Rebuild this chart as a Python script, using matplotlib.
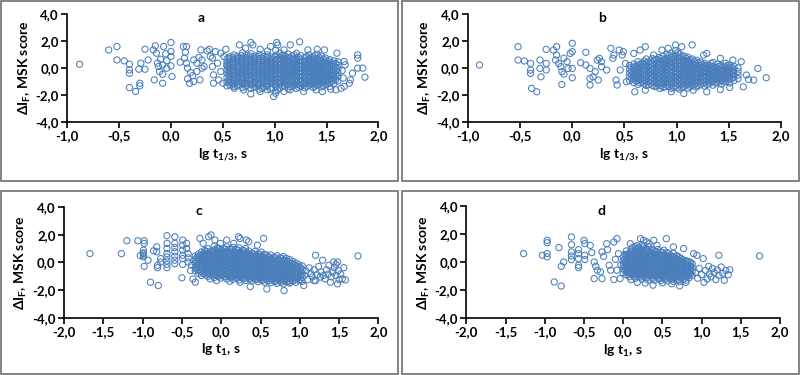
import matplotlib
matplotlib.use("Agg")
import matplotlib.pyplot as plt
from matplotlib.patches import Rectangle
from matplotlib.ticker import FuncFormatter, MultipleLocator

plt.rcParams["font.family"] = ["Lato", "DejaVu Sans"]
plt.rcParams["mathtext.fontset"] = "custom"
plt.rcParams["mathtext.rm"] = "Lato:bold"
plt.rcParams["mathtext.it"] = "Lato:bold"
plt.rcParams["mathtext.bf"] = "Lato:bold"

# ---- panel a: lg t1/3 vs dIF (all points) ----
a_pts = [(-0.88, 0.27), (-0.60, 1.33), (-0.52, 1.58), (-0.52, 0.59), (-0.45, 0.52),
         (-0.40, 0.27), (-0.40, -0.15), (-0.40, -0.40), (-0.40, -1.46), (-0.34, -1.75),
         (-0.30, -1.33), (-0.30, -1.14), (-0.31, -0.10), (-0.25, -0.10), (-0.29, 0.35),
         (-0.25, 1.38), (-0.22, 0.59), (-0.17, 1.33), (-0.15, 1.63), (-0.14, 1.09),
         (-0.16, -0.89), (-0.13, 0.35), (-0.12, 0.10), (-0.10, 0.64), (-0.08, 0.22),
         (-0.11, -0.27), (-0.08, -0.47), (-0.08, -1.14), (-0.07, 1.58), (-0.05, 1.04),
         (-0.04, 0.54), (-0.04, -0.02), (0.00, 1.88), (0.00, 1.21), (0.00, 0.84),
         (0.01, -0.64), (0.00, 0.15), (0.09, 0.42), (0.12, 1.58), (0.13, 0.72),
         (0.14, 1.16), (0.15, 0.35), (0.15, 1.58), (0.16, -0.02), (0.16, -0.81),
         (0.18, -1.14), (0.19, -0.35), (0.21, -0.57), (0.22, -1.01), (0.22, 0.59),
         (0.25, -0.27), (0.25, 0.35), (0.27, 0.77), (0.28, -0.89), (0.29, 1.33),
         (0.30, 0.59), (0.30, -0.02), (0.32, 0.10), (0.35, 1.26), (0.37, 1.38),
         (0.38, 0.84), (0.40, 0.10), (0.40, 0.72), (0.41, -0.52), (0.41, -1.14),
         (0.43, 1.21), (0.45, 0.35), (0.46, -0.89), (0.48, 1.09), (0.48, -0.27),
         (0.50, -1.14), (0.51, 0.84), (0.53, 1.38), (0.54, 0.22), (0.54, -1.33),
         (0.66, 1.70), (0.72, 1.46), (0.77, 1.88), (0.79, 1.70), (0.86, 1.38),
         (0.96, 1.58), (1.02, 1.88), (1.03, 1.70), (1.09, 1.33), (1.15, 1.70),
         (1.24, 1.93), (1.32, 1.33), (1.41, 1.38), (1.48, 1.33), (1.60, 1.09),
         (1.80, 0.96), (1.80, 0.72), (1.80, -0.02), (1.85, -0.02), (1.87, -0.69),
         (1.75, -0.40), (1.73, -0.89), (1.72, -1.14), (1.67, -1.38), (1.64, -1.51),
         (1.68, 0.22), (1.67, 0.47), (1.65, -0.20), (1.66, -0.75),
         (0.61, -1.51), (0.70, -1.63), (0.77, -1.93), (0.86, -1.75), (0.99, -2.12),
         (1.01, -1.88), (1.09, -1.75), (1.15, -1.63), (1.28, -1.75), (1.40, -1.63),
         (1.46, -1.75), (1.54, -1.58), (1.59, -1.63)]

a_core = {
    0.54: [-1.05, -0.72, -0.41, -0.15, 0.12, 0.41, 0.66],
    0.57: [-1.28, -0.95, -0.63, -0.33, -0.05, 0.22, 0.51, 0.83],
    0.61: [-1.38, -1.12, -0.84, -0.55, -0.27, 0.02, 0.31, 0.62, 0.95],
    0.65: [-1.22, -0.98, -0.71, -0.44, -0.18, 0.09, 0.38, 0.71],
    0.69: [-1.45, -1.18, -0.90, -0.61, -0.33, -0.06, 0.21, 0.49, 0.80, 1.12],
    0.73: [-1.30, -1.02, -0.77, -0.50, -0.22, 0.05, 0.33, 0.63, 0.92],
    0.77: [-1.52, -1.25, -0.96, -0.68, -0.40, -0.13, 0.15, 0.44, 0.74, 1.05],
    0.81: [-1.36, -1.08, -0.81, -0.55, -0.27, 0.01, 0.28, 0.58, 0.88],
    0.85: [-1.58, -1.27, -0.99, -0.72, -0.45, -0.17, 0.11, 0.40, 0.69, 1.00],
    0.89: [-1.41, -1.13, -0.86, -0.58, -0.30, -0.03, 0.25, 0.53, 0.83],
    0.93: [-1.62, -1.30, -1.02, -0.75, -0.47, -0.20, 0.08, 0.37, 0.66, 0.97, 1.25],
    0.97: [-1.47, -1.17, -0.89, -0.61, -0.34, -0.07, 0.21, 0.50, 0.80],
    1.01: [-1.70, -1.35, -1.06, -0.78, -0.50, -0.22, 0.05, 0.33, 0.62, 0.93, 1.30],
    1.05: [-1.50, -1.20, -0.92, -0.64, -0.36, -0.09, 0.19, 0.47, 0.77, 1.10],
    1.09: [-1.33, -1.04, -0.76, -0.48, -0.21, 0.07, 0.35, 0.64, 0.94],
    1.13: [-1.55, -1.23, -0.95, -0.67, -0.39, -0.12, 0.16, 0.44, 0.73, 1.02],
    1.17: [-1.38, -1.09, -0.81, -0.53, -0.25, 0.03, 0.30, 0.59, 0.88],
    1.21: [-1.52, -1.21, -0.93, -0.65, -0.37, -0.10, 0.18, 0.46, 0.76, 1.08],
    1.25: [-1.34, -1.05, -0.77, -0.49, -0.22, 0.06, 0.33, 0.62, 0.91],
    1.29: [-1.48, -1.18, -0.90, -0.62, -0.34, -0.07, 0.21, 0.49, 0.79],
    1.33: [-1.31, -1.02, -0.74, -0.46, -0.19, 0.09, 0.37, 0.66, 0.96],
    1.37: [-1.45, -1.15, -0.87, -0.59, -0.31, -0.04, 0.24, 0.52, 0.83],
    1.41: [-1.28, -0.99, -0.71, -0.43, -0.16, 0.12, 0.40, 0.70, 1.01],
    1.45: [-1.42, -1.12, -0.84, -0.56, -0.28, -0.01, 0.27, 0.56, 0.88],
    1.49: [-1.25, -0.96, -0.68, -0.40, -0.13, 0.15, 0.43, 0.73],
    1.53: [-1.38, -1.08, -0.80, -0.52, -0.25, 0.03, 0.31, 0.61],
    1.57: [-1.15, -0.87, -0.59, -0.31, -0.04, 0.24, 0.52],
    1.61: [-0.98, -0.66, -0.36, -0.08, 0.20, 0.45],
}

a_core2 = {
    0.56: [-1.10, -0.80, -0.49, -0.20, 0.08, 0.37, 0.70],
    0.60: [-1.25, -0.97, -0.69, -0.41, -0.12, 0.16, 0.45, 0.78],
    0.64: [-1.33, -1.05, -0.57, -0.31, -0.04, 0.24, 0.55, 0.85],
    0.68: [-1.08, -0.76, -0.47, -0.19, 0.35, 0.64, 0.93],
    0.72: [-1.40, -1.15, -0.63, -0.36, -0.08, 0.19, 0.48, 0.77],
    0.76: [-1.20, -0.82, -0.54, -0.26, 0.01, 0.30, 0.59, 0.88],
    0.80: [-1.45, -1.17, -0.69, -0.41, -0.14, 0.13, 0.42, 0.72],
    0.84: [-1.30, -1.12, -0.85, -0.58, -0.31, -0.03, 0.25, 0.55, 0.84],
    0.88: [-1.52, -1.00, -0.72, -0.44, -0.16, 0.12, 0.39, 0.68],
    0.92: [-1.38, -1.15, -0.88, -0.61, -0.33, -0.06, 0.22, 0.51, 0.80],
    0.96: [-1.58, -1.03, -0.75, -0.47, -0.20, 0.07, 0.35, 0.65],
    1.00: [-1.20, -0.92, -0.64, -0.36, -0.08, 0.19, 0.47, 0.77],
    1.03: [-1.62, -1.06, -0.78, -0.50, -0.22, 0.05, 0.33, 0.62],
    1.07: [-1.35, -1.06, -0.78, -0.50, -0.23, 0.05, 0.33, 0.62, 0.92],
    1.11: [-1.18, -0.90, -0.62, -0.34, -0.07, 0.21, 0.50, 0.80],
    1.15: [-1.40, -1.10, -0.67, -0.39, -0.11, 0.16, 0.45, 0.74],
    1.19: [-1.24, -0.95, -0.51, -0.24, 0.04, 0.32, 0.62, 0.95],
    1.23: [-1.42, -1.19, -0.91, -0.63, -0.35, -0.08, 0.20, 0.48, 0.77],
    1.27: [-1.22, -0.63, -0.35, -0.08, 0.20, 0.48],
    1.31: [-1.38, -1.16, -0.88, -0.60, -0.33, -0.05, 0.23, 0.52, 0.83],
    1.35: [-1.22, -0.94, -0.66, -0.38, -0.11, 0.17, 0.45, 0.75],
    1.39: [-1.37, -1.07, -0.79, -0.51, -0.23, 0.04, 0.32, 0.62, 0.92],
    1.43: [-1.20, -0.92, -0.64, -0.36, -0.08, 0.20, 0.48, 0.78],
    1.47: [-1.32, -1.04, -0.76, -0.48, -0.20, 0.07, 0.35, 0.65],
    1.51: [-1.18, -0.90, -0.62, -0.34, -0.06, 0.22, 0.52],
    1.55: [-1.02, -0.74, -0.46, -0.18, 0.10, 0.38],
    1.59: [-0.88, -0.55, -0.22, 0.05, 0.32],
}

# ---- panel b: lg t1/3 vs dIF (subset) ----
b_pts = [(-0.89, 0.21), (-0.52, 1.57), (-0.52, 0.58), (-0.46, 0.51), (-0.40, 0.33),
         (-0.40, -0.16), (-0.40, -0.41), (-0.39, -1.52), (-0.34, -1.77), (-0.31, 0.58),
         (-0.31, -0.04), (-0.30, -0.66), (-0.25, 1.37), (-0.25, 0.33), (-0.25, -0.16),
         (-0.18, 1.32), (-0.15, 1.57), (-0.16, 0.58), (-0.15, 0.95), (-0.13, 0.33),
         (-0.11, 0.09), (-0.10, -0.28), (-0.08, -0.46), (-0.10, -1.23), (-0.08, 0.71),
         (-0.05, 0.46), (-0.04, -0.04), (-0.02, 1.07), (0.00, 1.20), (0.00, 1.82),
         (0.00, -0.04), (0.00, -0.73), (0.08, 0.38), (0.13, 1.15), (0.13, 0.21),
         (0.17, -0.04), (0.17, -0.78), (0.17, -1.27), (0.20, -0.66), (0.22, -0.28),
         (0.24, 0.58), (0.26, 0.71), (0.28, 0.46), (0.25, -0.90), (0.28, 0.09),
         (0.33, -0.16), (0.37, 1.45), (0.39, 0.71), (0.40, 0.95), (0.42, -0.90),
         (0.43, -1.27), (0.45, 1.32), (0.48, 0.95), (0.46, -0.16), (0.49, 1.20),
         (0.51, 0.33), (0.52, -1.02),
         (0.59, 1.07), (0.65, 1.32), (0.70, 1.57), (0.78, 0.95), (0.86, 1.32),
         (0.92, 1.45), (0.99, 1.70), (1.05, 1.57), (1.15, 1.70), (1.26, 0.95),
         (1.29, 1.07), (1.42, 0.71), (1.54, 0.58), (1.62, 0.46),
         (1.78, -0.04), (1.86, -0.73), (1.74, -0.90), (1.69, -0.85), (1.64, -1.40),
         (1.67, -0.53),
         (0.60, -1.77), (0.70, -1.65), (0.84, -1.52), (0.95, -1.77), (1.07, -1.90),
         (1.16, -1.65), (1.29, -1.77), (1.42, -1.60), (1.51, -1.45)]

b_core = {
    0.55: [-0.95, -0.66, -0.38, -0.10, 0.18],
    0.59: [-1.10, -0.82, -0.54, -0.27, 0.01, 0.29],
    0.63: [-1.22, -0.94, -0.66, -0.39, -0.11, 0.17, 0.46],
    0.67: [-1.05, -0.78, -0.50, -0.23, 0.05, 0.33],
    0.71: [-1.30, -1.02, -0.74, -0.47, -0.19, 0.09, 0.38, 0.66],
    0.75: [-1.15, -0.87, -0.60, -0.32, -0.04, 0.24, 0.52],
    0.79: [-1.38, -1.09, -0.81, -0.53, -0.26, 0.02, 0.31, 0.60],
    0.83: [-1.22, -0.94, -0.66, -0.39, -0.11, 0.17, 0.46, 0.77],
    0.87: [-1.45, -1.15, -0.87, -0.59, -0.32, -0.04, 0.24, 0.54, 0.85],
    0.91: [-1.30, -1.01, -0.73, -0.45, -0.18, 0.10, 0.39, 0.69, 1.00],
    0.95: [-1.52, -1.21, -0.93, -0.65, -0.37, -0.10, 0.18, 0.47, 0.77, 1.10],
    0.99: [-1.35, -1.06, -0.78, -0.50, -0.23, 0.05, 0.33, 0.62, 0.93, 1.28],
    1.03: [-1.58, -1.25, -0.97, -0.69, -0.41, -0.14, 0.14, 0.43, 0.73, 1.05],
    1.07: [-1.40, -1.10, -0.82, -0.54, -0.26, 0.01, 0.29, 0.58, 0.88],
    1.11: [-1.50, -1.20, -0.92, -0.64, -0.36, -0.09, 0.19, 0.48, 0.79],
    1.15: [-1.32, -1.03, -0.75, -0.47, -0.20, 0.08, 0.36, 0.66],
    1.19: [-1.42, -1.12, -0.84, -0.56, -0.29, -0.01, 0.27, 0.56],
    1.23: [-1.25, -0.96, -0.68, -0.41, -0.13, 0.15, 0.44],
    1.27: [-1.35, -1.05, -0.78, -0.50, -0.23, 0.05, 0.33],
    1.31: [-1.18, -0.90, -0.62, -0.35, -0.07, 0.21],
    1.35: [-1.28, -0.99, -0.72, -0.44, -0.17, 0.11, 0.40],
    1.39: [-1.10, -0.83, -0.55, -0.28, 0.00, 0.28],
    1.43: [-1.20, -0.92, -0.65, -0.37, -0.10, 0.17],
    1.47: [-1.02, -0.75, -0.48, -0.21, 0.06, 0.33],
    1.51: [-1.12, -0.84, -0.57, -0.30, -0.03, 0.22],
    1.55: [-0.95, -0.68, -0.41, -0.14, 0.12],
    1.59: [-0.80, -0.53, -0.27, 0.00],
}

b_core2 = {
    0.57: [-0.80, -0.52, -0.24, 0.04],
    0.61: [-0.98, -0.70, -0.42, -0.14, 0.14],
    0.65: [-1.12, -0.84, -0.56, -0.28, 0.00, 0.28],
    0.69: [-1.18, -0.90, -0.62, -0.34, -0.06, 0.22, 0.50],
    0.73: [-1.25, -0.97, -0.69, -0.41, -0.13, 0.15, 0.43],
    0.77: [-1.30, -1.02, -0.74, -0.46, -0.18, 0.10, 0.38, 0.68],
    0.81: [-1.35, -1.07, -0.79, -0.51, -0.23, 0.05, 0.33, 0.62],
    0.85: [-1.32, -1.04, -0.76, -0.48, -0.20, 0.08, 0.38, 0.70],
    0.89: [-1.40, -1.12, -0.84, -0.56, -0.28, 0.00, 0.28, 0.58],
    0.93: [-1.38, -1.08, -0.80, -0.52, -0.24, 0.04, 0.33, 0.63, 0.92],
    0.97: [-1.44, -1.14, -0.86, -0.58, -0.30, -0.02, 0.26, 0.55, 0.85],
    1.01: [-1.48, -1.20, -0.92, -0.64, -0.36, -0.08, 0.20, 0.50, 0.80, 1.12],
    1.05: [-1.45, -1.16, -0.88, -0.60, -0.32, -0.04, 0.24, 0.53, 0.85],
    1.09: [-1.26, -0.96, -0.68, -0.40, -0.12, 0.16, 0.45, 0.72],
    1.13: [-1.38, -1.08, -0.80, -0.52, -0.24, 0.04, 0.32, 0.60],
    1.17: [-1.22, -0.92, -0.64, -0.36, -0.08, 0.20, 0.48],
    1.21: [-1.30, -1.02, -0.74, -0.46, -0.18, 0.10, 0.38],
    1.25: [-1.15, -0.86, -0.58, -0.30, -0.02, 0.26],
    1.29: [-1.22, -0.94, -0.66, -0.38, -0.10, 0.18],
    1.33: [-1.05, -0.77, -0.49, -0.21, 0.07, 0.32],
    1.37: [-1.12, -0.84, -0.56, -0.28, 0.00],
    1.41: [-0.98, -0.70, -0.42, -0.14, 0.12],
    1.45: [-1.05, -0.77, -0.49, -0.21, 0.05],
    1.49: [-0.90, -0.62, -0.34, -0.06, 0.18],
    1.53: [-0.78, -0.50, -0.22, 0.05],
}

# ---- panel c: lg t1 vs dIF (all points) ----
c_pts = [(-1.67, 0.63), (-1.27, 0.63), (-1.20, 1.56), (-1.06, 1.56), (-0.98, 1.56),
         (-0.98, 1.37), (-0.99, 0.88), (-0.99, 0.68), (-0.99, 0.51), (-0.99, 0.39),
         (-0.99, 0.63), (-1.03, 0.49), (-0.98, -0.29), (-0.93, 0.15), (-0.90, -1.44),
         (-0.86, 0.83), (-0.82, 1.12), (-0.82, 0.76), (-0.81, -0.22), (-0.81, -0.39),
         (-0.80, -1.68), (-0.77, 0.27), (-0.77, 0.02),
         (-0.69, 1.93), (-0.69, 1.37), (-0.69, 1.00), (-0.69, 0.63), (-0.69, 0.39),
         (-0.69, 0.10), (-0.69, -0.15), (-0.69, -0.39),
         (-0.59, 1.85), (-0.59, 1.37), (-0.59, 1.07), (-0.59, 0.76), (-0.59, 0.44),
         (-0.59, 0.15), (-0.59, -0.10),
         (-0.49, 1.61), (-0.49, 1.24), (-0.49, 0.88), (-0.49, 0.51), (-0.49, 0.27),
         (-0.49, -0.15), (-0.50, -1.12),
         (-0.44, 1.37), (-0.44, 1.00), (-0.42, 0.63), (-0.42, 0.32), (-0.42, 0.02),
         (-0.39, -0.59), (-0.36, -1.20), (-0.33, -1.44), (-0.38, -0.20),
         (-0.27, 1.73), (-0.23, 1.37), (-0.16, 1.85), (-0.13, 1.98), (-0.08, 1.61),
         (-0.01, 1.37), (0.07, 1.61), (0.16, 1.37), (0.22, 1.85), (0.24, 1.73),
         (0.32, 1.61), (0.35, 1.49), (0.54, 1.73), (0.46, 1.24),
         (-0.14, -1.20), (-0.06, -1.32), (0.11, -1.37), (0.24, -1.44), (0.37, -1.76),
         (0.58, -1.93), (0.80, -2.05), (0.88, -1.44), (1.05, -1.68), (1.18, -1.32),
         (1.26, -1.07), (1.39, -1.44), (1.48, -1.56),
         (1.06, -0.95), (1.08, -0.62), (1.10, -1.25), (1.12, -0.40), (1.14, -0.80),
         (1.16, -1.05), (1.18, -0.55), (1.20, 0.51), (1.20, -1.32), (1.22, -0.90),
         (1.24, -0.30), (1.27, -0.70), (1.29, 0.15), (1.30, -0.95), (1.32, -1.20),
         (1.34, -0.55), (1.36, -0.85), (1.37, -0.22), (1.40, -1.05), (1.42, -0.70),
         (1.43, 0.02), (1.44, -0.40), (1.46, -0.15), (1.46, -0.95), (1.48, 0.02),
         (1.49, -0.60), (1.50, -1.25), (1.52, -0.85), (1.54, -1.20), (1.56, -0.39),
         (1.58, -1.27), (1.74, 0.46)]

c_core = {
    -0.33: [-0.62, -0.35, -0.08, 0.19, 0.46],
    -0.29: [-0.80, -0.52, -0.24, 0.04, 0.32, 0.60],
    -0.25: [-0.95, -0.67, -0.39, -0.11, 0.17, 0.45, 0.75],
    -0.21: [-0.85, -0.57, -0.29, -0.01, 0.27, 0.56, 0.86],
    -0.17: [-1.02, -0.74, -0.46, -0.18, 0.10, 0.38, 0.68, 0.98],
    -0.13: [-0.90, -0.62, -0.34, -0.06, 0.22, 0.51, 0.81],
    -0.09: [-1.10, -0.81, -0.53, -0.25, 0.03, 0.31, 0.60, 0.90, 1.18],
    -0.05: [-0.98, -0.70, -0.42, -0.14, 0.14, 0.43, 0.73, 1.04],
    -0.01: [-1.15, -0.86, -0.58, -0.30, -0.02, 0.26, 0.55, 0.85],
    0.03: [-1.02, -0.74, -0.46, -0.18, 0.10, 0.38, 0.68, 0.98],
    0.07: [-1.20, -0.90, -0.62, -0.34, -0.06, 0.22, 0.51, 0.81, 1.12],
    0.11: [-1.06, -0.78, -0.50, -0.22, 0.06, 0.35, 0.64, 0.94],
    0.15: [-1.24, -0.94, -0.66, -0.38, -0.10, 0.18, 0.47, 0.77, 1.08],
    0.19: [-1.10, -0.82, -0.54, -0.26, 0.02, 0.31, 0.60, 0.90],
    0.23: [-1.28, -0.98, -0.70, -0.42, -0.14, 0.14, 0.43, 0.73, 1.05],
    0.27: [-1.14, -0.86, -0.58, -0.30, -0.02, 0.27, 0.56, 0.86],
    0.31: [-1.32, -1.02, -0.74, -0.46, -0.18, 0.10, 0.39, 0.69, 1.00],
    0.35: [-1.18, -0.90, -0.62, -0.34, -0.06, 0.23, 0.52, 0.82],
    0.39: [-1.36, -1.06, -0.78, -0.50, -0.22, 0.06, 0.35, 0.65],
    0.43: [-1.22, -0.94, -0.66, -0.38, -0.10, 0.19, 0.48, 0.78],
    0.47: [-1.40, -1.10, -0.82, -0.54, -0.26, 0.02, 0.31, 0.61],
    0.51: [-1.26, -0.98, -0.70, -0.42, -0.14, 0.15, 0.44, 0.74],
    0.55: [-1.44, -1.14, -0.86, -0.58, -0.30, -0.02, 0.27, 0.57],
    0.59: [-1.30, -1.02, -0.74, -0.46, -0.18, 0.11, 0.40],
    0.63: [-1.48, -1.18, -0.90, -0.62, -0.34, -0.06, 0.23, 0.53],
    0.67: [-1.34, -1.06, -0.78, -0.50, -0.22, 0.07, 0.36],
    0.71: [-1.52, -1.22, -0.94, -0.66, -0.38, -0.10, 0.19, 0.48],
    0.75: [-1.38, -1.10, -0.82, -0.54, -0.26, 0.03, 0.32],
    0.79: [-1.56, -1.26, -0.98, -0.70, -0.42, -0.14, 0.15, 0.42],
    0.83: [-1.42, -1.14, -0.86, -0.58, -0.30, -0.01, 0.28],
    0.87: [-1.50, -1.20, -0.92, -0.64, -0.36, -0.08, 0.20],
    0.91: [-1.34, -1.06, -0.78, -0.50, -0.22, 0.06],
    0.95: [-1.45, -1.16, -0.88, -0.60, -0.32, -0.05],
    0.99: [-1.30, -1.02, -0.74, -0.46, -0.18],
    1.03: [-1.38, -1.10, -0.82, -0.54, -0.26],
}

c_core2 = {
    -0.31: [-0.48, -0.20, 0.08, 0.36],
    -0.27: [-0.66, -0.38, -0.10, 0.18, 0.46],
    -0.23: [-0.80, -0.52, -0.24, 0.04, 0.32, 0.62],
    -0.19: [-0.92, -0.64, -0.36, -0.08, 0.20, 0.49, 0.78],
    -0.15: [-0.76, -0.48, -0.20, 0.08, 0.37, 0.66],
    -0.11: [-0.96, -0.68, -0.40, -0.12, 0.16, 0.45, 0.75],
    -0.07: [-0.84, -0.56, -0.28, 0.00, 0.28, 0.57, 0.86],
    -0.03: [-1.00, -0.72, -0.44, -0.16, 0.12, 0.40, 0.70, 1.00],
    0.01: [-0.88, -0.60, -0.32, -0.04, 0.24, 0.53, 0.82],
    0.05: [-1.05, -0.76, -0.48, -0.20, 0.08, 0.36, 0.66, 0.96],
    0.09: [-0.92, -0.64, -0.36, -0.08, 0.20, 0.49, 0.79],
    0.13: [-1.10, -0.80, -0.52, -0.24, 0.04, 0.32, 0.62, 0.92],
    0.17: [-0.96, -0.68, -0.40, -0.12, 0.16, 0.45, 0.75],
    0.21: [-1.14, -0.84, -0.56, -0.28, 0.00, 0.28, 0.58, 0.88],
    0.25: [-1.00, -0.72, -0.44, -0.16, 0.12, 0.41, 0.71],
    0.29: [-1.18, -0.88, -0.60, -0.32, -0.04, 0.24, 0.54, 0.84],
    0.33: [-1.04, -0.76, -0.48, -0.20, 0.08, 0.37, 0.66],
    0.37: [-1.22, -0.92, -0.64, -0.36, -0.08, 0.20, 0.50],
    0.41: [-1.08, -0.80, -0.52, -0.24, 0.04, 0.33, 0.62],
    0.45: [-1.26, -0.96, -0.68, -0.40, -0.12, 0.16, 0.46],
    0.49: [-1.12, -0.84, -0.56, -0.28, 0.00, 0.29, 0.58],
    0.53: [-1.30, -1.00, -0.72, -0.44, -0.16, 0.12, 0.42],
    0.57: [-1.16, -0.88, -0.60, -0.32, -0.04, 0.25, 0.54],
    0.61: [-1.34, -1.04, -0.76, -0.48, -0.20, 0.08, 0.38],
    0.65: [-1.20, -0.92, -0.64, -0.36, -0.08, 0.21],
    0.69: [-1.38, -1.08, -0.80, -0.52, -0.24, 0.04, 0.33],
    0.73: [-1.24, -0.96, -0.68, -0.40, -0.12, 0.17],
    0.77: [-1.42, -1.12, -0.84, -0.56, -0.28, 0.00, 0.28],
    0.81: [-1.28, -1.00, -0.72, -0.44, -0.16, 0.13],
    0.85: [-1.36, -1.06, -0.78, -0.50, -0.22, 0.06],
    0.89: [-1.20, -0.92, -0.64, -0.36, -0.08],
    0.93: [-1.30, -1.02, -0.74, -0.46, -0.18],
    0.97: [-1.16, -0.88, -0.60, -0.32],
    1.01: [-1.24, -0.96, -0.68, -0.40],
}

# ---- panel d: lg t1 vs dIF (subset) ----
d_pts = [(-1.27, 0.61), (-1.03, 0.49), (-0.97, 1.56), (-0.97, 1.39), (-0.97, 0.61),
         (-0.97, 0.37), (-0.88, -1.42), (-0.82, 1.04), (-0.79, -1.71), (-0.79, -0.30),
         (-0.76, 0.01), (-0.66, 1.80), (-0.66, 1.25), (-0.66, 0.73), (-0.66, 0.44),
         (-0.66, 0.18), (-0.57, 0.89), (-0.57, 0.61), (-0.57, 0.25), (-0.57, -0.23),
         (-0.57, -0.39), (-0.50, 1.56), (-0.49, 1.32), (-0.49, 0.49), (-0.49, 0.18),
         (-0.42, 1.20), (-0.40, 0.68), (-0.37, 0.01), (-0.35, -0.30), (-0.37, -1.18),
         (-0.33, -0.58), (-0.29, -0.70), (-0.27, 0.73), (-0.25, 0.42), (-0.27, -1.18),
         (-0.21, 1.32), (-0.20, 0.89), (-0.18, -0.23), (-0.16, -0.58), (-0.12, 1.44),
         (-0.12, -1.25), (-0.08, 1.68), (-0.08, -0.58), (-0.06, 0.61), (-0.04, -1.18),
         (-0.10, 0.20), (-0.03, -0.20),
         (0.09, 1.32), (0.22, 1.68), (0.26, 1.56), (0.33, 1.32), (0.39, 1.56),
         (0.43, 1.20), (0.55, 1.68), (0.64, 1.09), (0.77, 0.97), (0.15, 1.10),
         (0.30, 1.45),
         (0.10, -1.25), (0.18, -1.45), (0.28, -1.50), (0.38, -1.65), (0.50, -1.48),
         (0.62, -1.55), (0.72, -1.70), (0.80, -1.45),
         (0.90, 0.61), (0.94, 0.49), (0.92, -0.75), (0.95, -1.15), (0.97, -0.45),
         (1.00, -0.90), (1.02, 0.25), (1.03, -1.45), (1.05, -0.60), (1.07, -1.20),
         (1.09, -0.30), (1.10, -0.85), (1.12, -1.05), (1.14, -0.45), (1.16, -0.75),
         (1.18, -1.25), (1.20, -0.55), (1.22, 0.49), (1.22, -0.95), (1.25, -0.35),
         (1.27, -0.80), (1.29, -1.30), (1.31, -0.60), (1.34, -0.90), (1.36, -0.55),
         (1.74, 0.44)]

d_core = {
    0.00: [-0.75, -0.47, -0.19, 0.09, 0.37],
    0.04: [-0.92, -0.63, -0.35, -0.07, 0.21, 0.50, 0.80],
    0.08: [-1.05, -0.78, -0.50, -0.22, 0.06, 0.35, 0.64],
    0.12: [-0.95, -0.66, -0.38, -0.10, 0.18, 0.47, 0.77, 1.05],
    0.16: [-1.15, -0.82, -0.54, -0.26, 0.02, 0.31, 0.61, 0.92],
    0.20: [-1.00, -0.71, -0.43, -0.15, 0.13, 0.42, 0.72, 1.04],
    0.24: [-1.22, -0.88, -0.59, -0.31, -0.03, 0.26, 0.56, 0.87, 1.20],
    0.28: [-1.05, -0.76, -0.48, -0.20, 0.08, 0.37, 0.67, 0.98],
    0.32: [-1.28, -0.93, -0.64, -0.36, -0.08, 0.21, 0.50, 0.81, 1.12],
    0.36: [-1.10, -0.80, -0.52, -0.24, 0.04, 0.33, 0.62, 0.93],
    0.40: [-1.30, -0.97, -0.68, -0.40, -0.12, 0.17, 0.46, 0.76],
    0.44: [-1.14, -0.84, -0.56, -0.28, 0.00, 0.29, 0.58, 0.90],
    0.48: [-1.32, -1.00, -0.71, -0.43, -0.15, 0.13, 0.42, 0.72],
    0.52: [-1.16, -0.87, -0.59, -0.31, -0.03, 0.25, 0.55, 0.85],
    0.56: [-1.34, -1.03, -0.74, -0.46, -0.18, 0.10, 0.39, 0.68],
    0.60: [-1.19, -0.90, -0.62, -0.34, -0.06, 0.22, 0.51],
    0.64: [-1.38, -1.06, -0.77, -0.49, -0.21, 0.07, 0.36, 0.62],
    0.68: [-1.22, -0.93, -0.65, -0.37, -0.09, 0.19, 0.46],
    0.72: [-1.40, -1.08, -0.79, -0.51, -0.23, 0.05, 0.32],
    0.76: [-1.24, -0.95, -0.67, -0.39, -0.11, 0.16],
    0.80: [-1.30, -1.00, -0.72, -0.44, -0.16, 0.10],
    0.84: [-1.12, -0.83, -0.55, -0.27, 0.01],
    0.88: [-0.96, -0.66, -0.38, -0.12],
}

d_core2 = {
    0.02: [-0.60, -0.33, -0.05, 0.23, 0.55],
    0.06: [-0.85, -0.57, -0.29, -0.01, 0.28, 0.58],
    0.10: [-0.80, -0.52, -0.24, 0.04, 0.33, 0.62, 0.90],
    0.14: [-1.02, -0.74, -0.46, -0.18, 0.10, 0.39, 0.69],
    0.18: [-0.86, -0.58, -0.30, -0.02, 0.27, 0.57, 0.88, 1.18],
    0.22: [-1.06, -0.78, -0.50, -0.22, 0.06, 0.35, 0.65, 0.95],
    0.26: [-0.92, -0.64, -0.36, -0.08, 0.21, 0.51, 0.82, 1.10],
    0.30: [-1.12, -0.84, -0.56, -0.28, 0.00, 0.29, 0.58, 0.90],
    0.34: [-0.96, -0.68, -0.40, -0.12, 0.17, 0.46, 0.76],
    0.38: [-1.16, -0.88, -0.60, -0.32, -0.04, 0.25, 0.54, 0.85],
    0.42: [-1.00, -0.72, -0.44, -0.16, 0.13, 0.42, 0.72],
    0.46: [-1.20, -0.92, -0.64, -0.36, -0.08, 0.21, 0.50],
    0.50: [-1.02, -0.74, -0.46, -0.18, 0.11, 0.40, 0.70],
    0.54: [-1.22, -0.94, -0.66, -0.38, -0.10, 0.18, 0.47],
    0.58: [-1.06, -0.78, -0.50, -0.22, 0.07, 0.36, 0.62],
    0.62: [-1.26, -0.98, -0.70, -0.42, -0.14, 0.14, 0.42],
    0.66: [-1.10, -0.82, -0.54, -0.26, 0.03, 0.30],
    0.70: [-1.28, -1.00, -0.72, -0.44, -0.16, 0.12, 0.40],
    0.74: [-1.12, -0.84, -0.56, -0.28, 0.00, 0.25],
    0.78: [-1.18, -0.90, -0.62, -0.34, -0.06],
    0.82: [-1.02, -0.74, -0.46, -0.18, 0.06],
    0.86: [-0.86, -0.58, -0.30, -0.02],
}

panel_labels = ["a", "b", "c", "d"]
x_labels = [r"lg t$_{1/3}$, s", r"lg t$_{1/3}$, s", r"lg t$_{1}$, s", r"lg t$_{1}$, s"]
y_label = r"ΔI$_{F}$, MSK score"
x_limits = [(-1.0, 2.0), (-1.0, 2.0), (-2.0, 2.0), (-2.0, 2.0)]

COLOR = "#4a7ebb"


def collect(points, *cores):
    xs = [p[0] for p in points]
    ys = [p[1] for p in points]
    for core in cores:
        for x, col in core.items():
            xs += [x] * len(col)
            ys += col
    return xs, ys


def comma(v, pos):
    return f"{v:.1f}".replace(".", ",")


fig = plt.figure(figsize=(8, 3.75), dpi=100)

# panel frames
for (x0, y0, w, h) in [(0.001, 0.517, 0.496, 0.481), (0.503, 0.517, 0.496, 0.481),
                       (0.001, 0.002, 0.496, 0.488), (0.503, 0.002, 0.496, 0.488)]:
    fig.add_artist(Rectangle((x0, y0), w, h, transform=fig.transFigure,
                             fill=False, edgecolor="#6d6d6d", linewidth=1.2))

positions = [[0.084, 0.675, 0.389, 0.288], [0.585, 0.675, 0.391, 0.288],
             [0.080, 0.153, 0.393, 0.295], [0.583, 0.152, 0.392, 0.298]]
data = [collect(a_pts, a_core, a_core2), collect(b_pts, b_core, b_core2),
        collect(c_pts, c_core, c_core2), collect(d_pts, d_core, d_core2)]

for i in range(4):
    ax = fig.add_axes(positions[i])
    xs, ys = data[i]
    ax.scatter(xs, ys, s=20, facecolors="none", edgecolors=COLOR, linewidths=0.75)
    ax.set_xlim(*x_limits[i])
    ax.set_ylim(-4, 4)
    ax.xaxis.set_major_locator(MultipleLocator(0.5))
    ax.yaxis.set_major_locator(MultipleLocator(2))
    ax.xaxis.set_major_formatter(FuncFormatter(comma))
    ax.yaxis.set_major_formatter(FuncFormatter(comma))
    for side in ["top", "right"]:
        ax.spines[side].set_visible(False)
    for side in ["left", "bottom"]:
        ax.spines[side].set_linewidth(1.2)
    ax.tick_params(direction="out", length=4, width=1.2, labelsize=9.5, pad=2)
    for lab in ax.get_xticklabels() + ax.get_yticklabels():
        lab.set_fontweight("bold")
    ax.set_xlabel(x_labels[i], fontsize=10, fontweight="bold", labelpad=3)
    ax.set_ylabel(y_label, fontsize=10, fontweight="bold", labelpad=2)
    ax.text(0.43, 0.96, panel_labels[i], transform=ax.transAxes, ha="center",
            va="center", fontsize=10, fontweight="bold")

fig.savefig("out.png", dpi=100)
